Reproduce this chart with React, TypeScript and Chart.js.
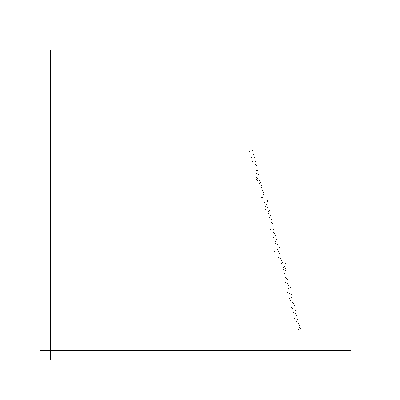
import React, { useEffect, useRef } from "react";
import { Chart, registerables } from "chart.js";

Chart.register(...registerables);

const xValues = [
  199, 202, 201, 204, 202, 205, 205, 206, 206, 207, 206, 206, 207, 207, 206, 209, 210, 209, 211, 211,
  212, 213, 211, 212, 217, 214, 216,
  217, 215, 217, 215, 219, 218, 220, 219, 221, 222, 220, 223, 223, 224, 225, 223, 225, 225, 227, 229,
  227, 224, 229, 228, 230, 232, 231, 235, 233, 235,
  234, 233, 235, 235, 236, 237, 235, 237, 240, 238, 237, 239, 241, 239, 240, 242, 244, 241, 242, 243,
  245, 246, 244, 246, 248, 249, 249, 250, 248,
  203, 208, 213, 218, 221, 226, 228, 231, 234, 238, 241, 243, 245, 247,
];
const yValues = [
  198, 199, 192, 192, 188, 188, 185, 184, 179, 179, 176, 172, 171, 169, 170, 169, 167, 166, 164, 162,
  159, 157, 152, 152, 149, 147, 145,
  148, 143, 142, 140, 139, 136, 134, 132, 127, 126, 120, 120, 117, 116, 114, 112, 108, 106, 105, 102,
  100, 98, 96, 92, 91, 87, 86, 86, 82, 81,
  83, 80, 79, 72, 71, 70, 67, 66, 62, 61, 57, 56, 55, 51, 49, 47, 44, 42, 41, 37,
  36, 34, 31, 28, 26, 24, 22, 21, 20,
  195, 175, 155, 138, 130, 110, 98, 89, 76, 64, 52, 46, 39, 30,
];
const axisMin = -0.5;
const axisMax = 299.5;

export default function App() {
  const ref = useRef<HTMLCanvasElement | null>(null);
  useEffect(() => {
    if (!ref.current) return;
    const points = xValues.map((x, i) => ({ x, y: yValues[i] }));
    const onlyOrigin = (axis: any) => {
      axis.ticks = [{ value: axis.min }];
    };
    const axisCommon = (): any => ({
      type: "linear",
      min: axisMin,
      max: axisMax,
      afterBuildTicks: onlyOrigin,
      ticks: { display: false },
      grid: {
        display: true,
        drawOnChartArea: false,
        drawTicks: true,
        tickLength: 10,
        color: "#000",
        lineWidth: 1,
      },
      border: { display: true, color: "#000", width: 1 },
    });
    const chart = new Chart(ref.current, {
      type: "scatter",
      data: {
        datasets: [
          {
            data: points,
            pointStyle: "rect",
            pointRadius: Math.SQRT1_2,
            pointBorderWidth: 0,
            pointBackgroundColor: "#000",
            backgroundColor: "#000",
            borderColor: "#000",
          },
        ],
      },
      options: {
        responsive: false,
        animation: false,
        layout: { padding: { left: 40, bottom: 40, top: 50, right: 50 } },
        plugins: { legend: { display: false }, tooltip: { enabled: false } },
        scales: { x: axisCommon(), y: axisCommon() },
      },
    });
    return () => chart.destroy();
  }, []);
  return (
    <canvas
      ref={ref}
      width={400}
      height={400}
      style={{ position: "fixed", left: 0, top: 0, width: 400, height: 400, display: "block", background: "#fff" }}
    />
  );
}
